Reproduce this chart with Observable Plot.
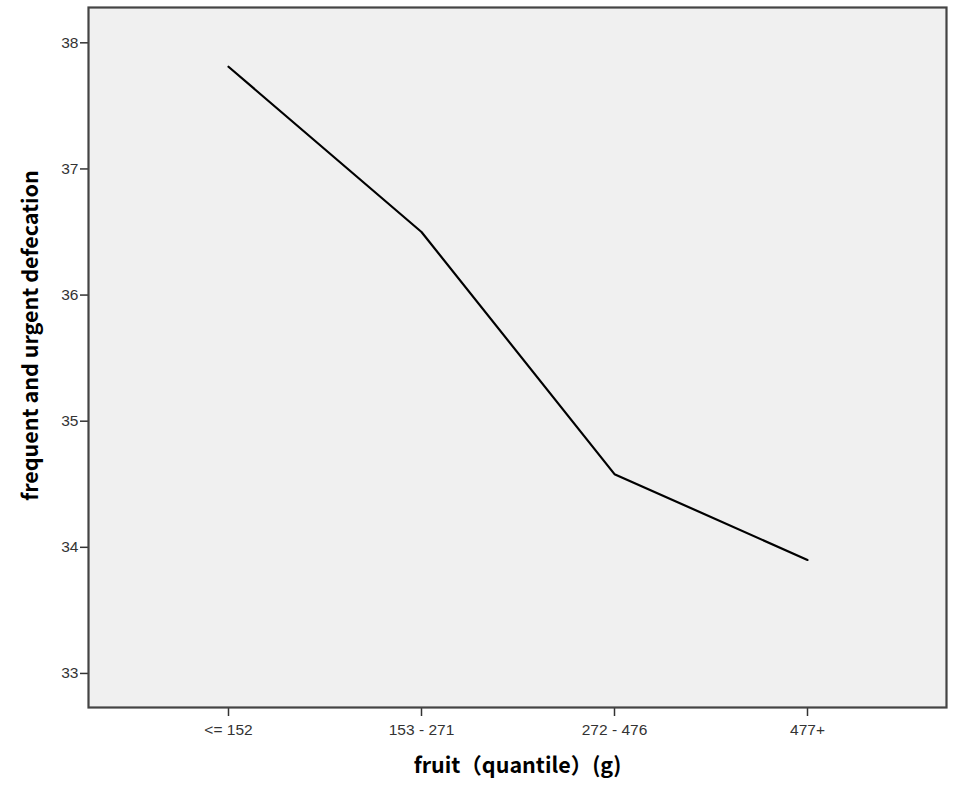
<!DOCTYPE html>
<html>
<head>
<meta charset="utf-8">
<script src="https://cdn.jsdelivr.net/npm/d3@7"></script>
<script src="https://cdn.jsdelivr.net/npm/@observablehq/plot@0.6"></script>
<style>
  html, body { margin: 0; padding: 0; background: #fff; }
  #chart svg { display: block; }
</style>
</head>
<body>
<div id="chart"></div>
<script>
const categories = ["<= 152", "153 - 271", "272 - 476", "477+"];
const values = [37.81, 36.50, 34.58, 33.90];
const yTicks = [33, 34, 35, 36, 37, 38];
const xTitle = "fruit（quantile）(g)";
const yTitle = "frequent and urgent defecation";

const data = categories.map((c, i) => ({ cat: c, value: values[i] }));

const chart = Plot.plot({
  width: 957,
  height: 788,
  marginLeft: 88,
  marginRight: 11,
  marginTop: 7,
  marginBottom: 81,
  style: { fontFamily: "'Liberation Sans', Arial, sans-serif", fontSize: "15.5px", color: "#333", background: "#fff" },
  x: { type: "point", domain: categories, padding: 0.72, label: null },
  y: { domain: [32.73, 38.28], label: null },
  marks: [
    Plot.frame({ fill: "#f0f0f0", stroke: null }),
    Plot.axisY({ ticks: yTicks, tickFormat: d => String(d), tickSize: 8, tickPadding: 2, stroke: "#333", strokeWidth: 1.5, label: null }),
    Plot.axisX({ tickSize: 9, tickPadding: 7, stroke: "#333", strokeWidth: 1.5, label: null }),
    Plot.line(data, { x: "cat", y: "value", stroke: "#000", strokeWidth: 2.2 }),
    Plot.frame({ stroke: "#444", strokeWidth: 2.2 }),
    Plot.text([yTitle], { frameAnchor: "left", textAnchor: "middle", dx: -57, dy: -22, rotate: -90, fontFamily: "'Noto Sans CJK SC', 'Noto Sans', sans-serif", fontWeight: "bold", fontSize: 21.5, fill: "#000", text: d => d }),
    Plot.text([xTitle], { frameAnchor: "bottom", dy: 65, fontFamily: "'Noto Sans CJK SC', 'Noto Sans', sans-serif", fontWeight: "bold", fontSize: 21.5, fill: "#000", text: d => d })
  ]
});
document.getElementById("chart").append(chart);
</script>
</body>
</html>
